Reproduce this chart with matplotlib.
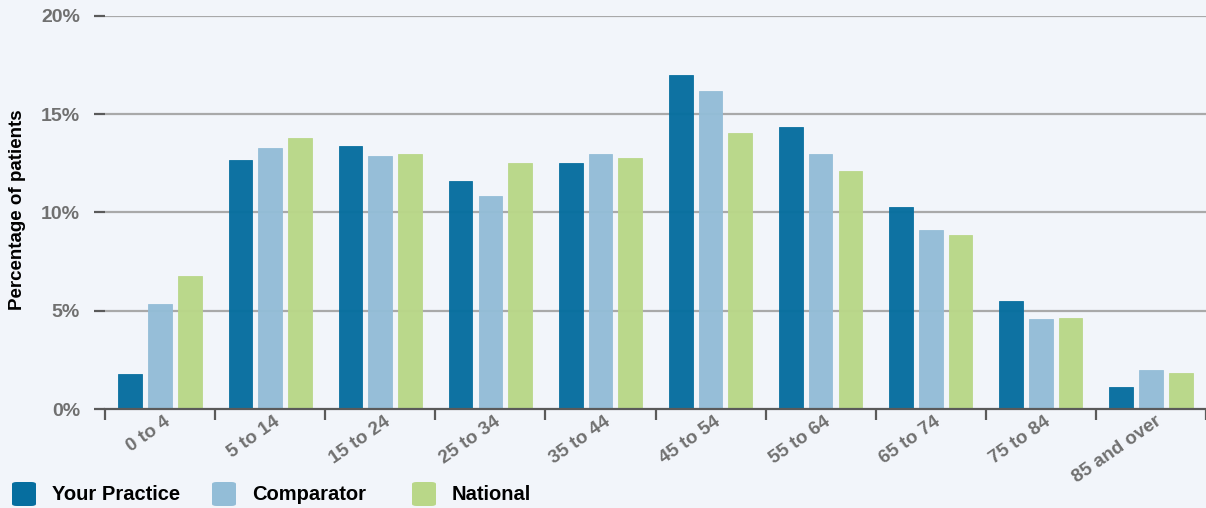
import numpy as np
import matplotlib
matplotlib.use("Agg")
import matplotlib.pyplot as plt
from matplotlib.patches import FancyBboxPatch

age_groups = ["0 to 4", "5 to 14", "15 to 24", "25 to 34", "35 to 44",
              "45 to 54", "55 to 64", "65 to 74", "75 to 84", "85 and over"]
your_practice = [1.8, 12.65, 13.4, 11.6, 12.5, 17.0, 14.35, 10.3, 5.5, 1.1]
comparator = [5.35, 13.3, 12.9, 10.85, 13.0, 16.2, 13.0, 9.1, 4.6, 2.0]
national = [6.75, 13.8, 13.0, 12.5, 12.75, 14.05, 12.1, 8.85, 4.65, 1.85]
series_names = ["Your Practice", "Comparator", "National"]
y_ticks = [0, 5, 10, 15, 20]

colors = ["#066e9f", "#93bdd7", "#b9d788"]
bg = "#f2f5fa"

fig = plt.figure(figsize=(12.06, 5.08), dpi=100, facecolor=bg)
ax = fig.add_axes([105/1206, 1 - 409/508, 1 - 105/1206, (409 - 16)/508])
ax.set_facecolor(bg)

x = np.arange(len(age_groups)) + 0.5
offsets = [-0.27, 0.0, 0.27]
w = 0.215
for vals, off, c in zip([your_practice, comparator, national], offsets, colors):
    ax.bar(x + off, vals, width=w, color=c, alpha=0.97, edgecolor=c,
           linewidth=0.6, zorder=3)

ax.set_xlim(0, len(age_groups))
ax.set_ylim(0, 20)

for t in y_ticks[1:]:
    ax.axhline(t, color="#a9a9a9", lw=1.6, zorder=2)

for s in ["top", "right", "left"]:
    ax.spines[s].set_visible(False)
ax.spines["bottom"].set_color("#5a5a5a")
ax.spines["bottom"].set_linewidth(1.6)
ax.spines["bottom"].set_zorder(4)

ax.set_yticks(y_ticks)
ax.set_yticklabels([f"{t}%" for t in y_ticks])
ax.tick_params(axis="y", length=8, width=1.6, color="#5a5a5a", pad=10,
               labelsize=14, labelcolor="#707070")
for lab in ax.get_yticklabels():
    lab.set_fontweight("bold")
    lab.set_fontfamily(["Liberation Sans", "DejaVu Sans"])

ax.set_xticks(np.arange(len(age_groups) + 1))
ax.set_xticklabels([])
ax.tick_params(axis="x", which="major", length=8, width=1.6, color="#5a5a5a")
ax.set_xticks(x + 0.03, minor=True)
ax.set_xticklabels(age_groups, minor=True, rotation=35, ha="right",
                   rotation_mode="anchor", fontsize=13.5, color="#707070",
                   fontweight="bold", family=["Liberation Sans", "DejaVu Sans"])
ax.tick_params(axis="x", which="minor", length=0, pad=3)

fig.text(18/1206, 1 - 210/508, "Percentage of patients", rotation=90,
         ha="center", va="center", fontsize=13.5, fontweight="bold",
         family=["Liberation Sans", "DejaVu Sans"], color="black")

# legend
for i, (name, c) in enumerate(zip(series_names, colors)):
    x0 = 12 + i * 200
    box = FancyBboxPatch((x0 / 1206, 1 - 506/508), 24/1206, 24/508,
                         boxstyle="round,pad=0,rounding_size=0.004",
                         transform=fig.transFigure, facecolor=c,
                         edgecolor="none")
    fig.add_artist(box)
    fig.text((x0 + 40) / 1206, 1 - 494/508, name, ha="left", va="center",
             fontsize=14.5, fontweight="bold", color="black",
             family=["Liberation Sans", "DejaVu Sans"])

fig.savefig("out.png", dpi=100, facecolor=bg)
